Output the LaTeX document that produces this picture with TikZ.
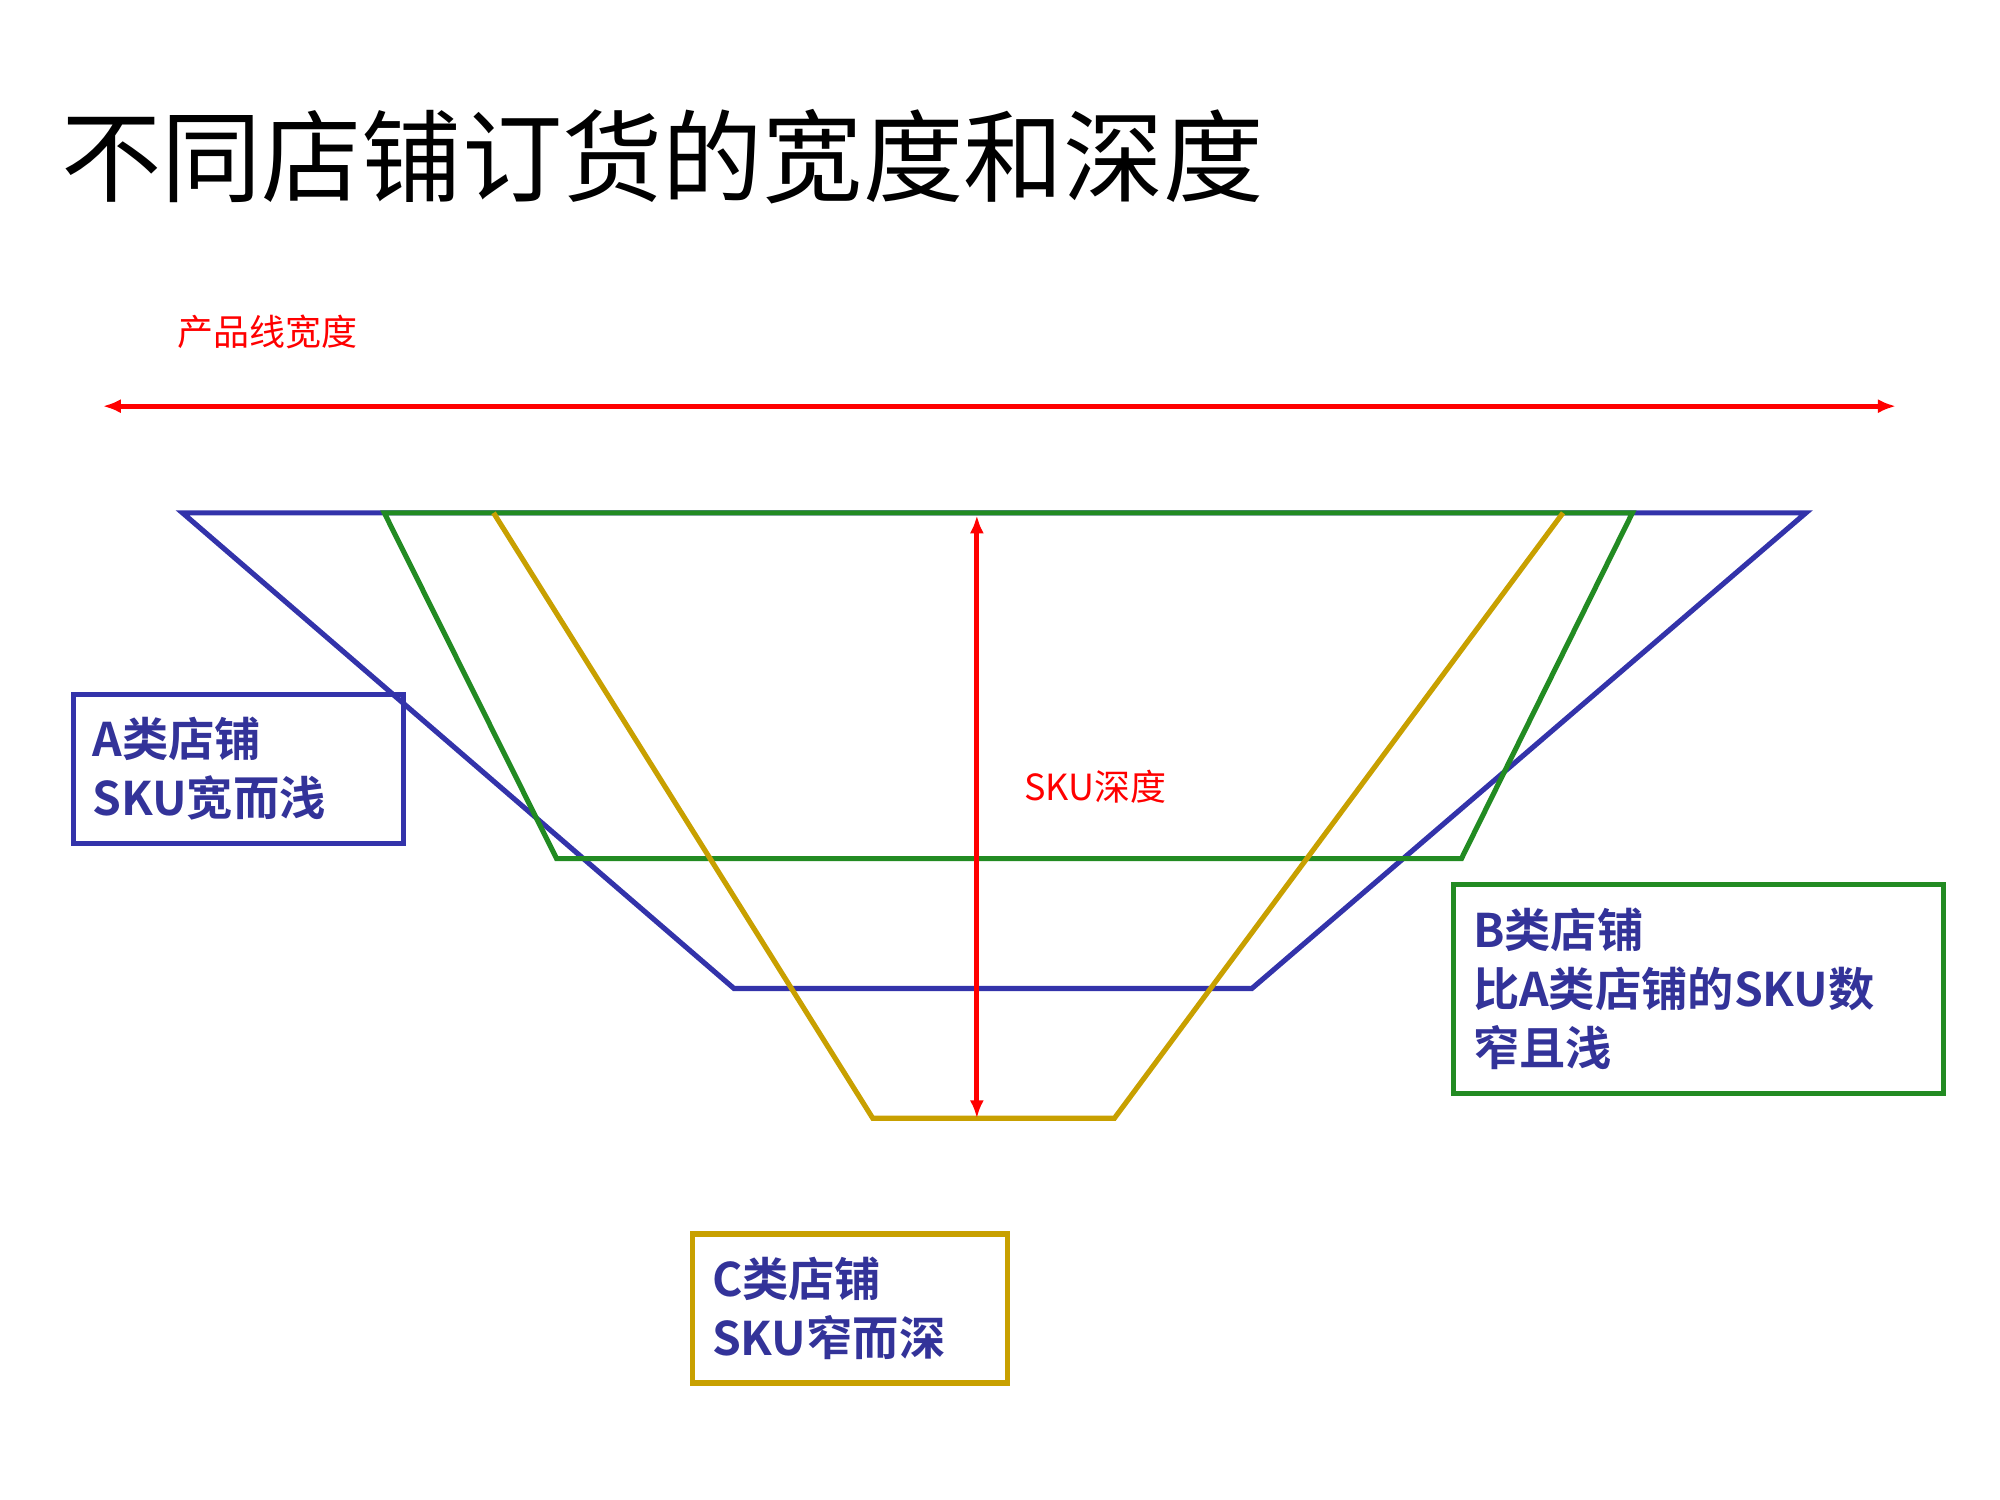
\documentclass[tikz,border=0pt]{standalone}
\usepackage{fontspec}
\newfontfamily\cjk{Noto Sans CJK SC}
\newfontfamily\cjkb{Noto Sans CJK SC Bold}
\usetikzlibrary{arrows.meta}
\definecolor{bl}{RGB}{51,51,170}
\definecolor{gr}{RGB}{34,139,34}
\definecolor{yl}{RGB}{200,160,0}
\definecolor{tx}{RGB}{51,51,153}
\begin{document}
\begin{tikzpicture}[x=1pt,y=-1pt,
  lab/.style={text=tx,font=\cjkb\fontsize{36}{46}\selectfont,align=left,inner xsep=15pt,inner ysep=10pt,line width=4pt,anchor=north west,minimum height=116pt},
  redarr/.style={red,line width=4pt,{Latex[length=14pt,width=11pt]}-{Latex[length=14pt,width=11pt]}}]
\useasboundingbox (0,0) rectangle (1556,1167);
\node[anchor=west,font=\cjk\fontsize{78}{80}\selectfont] (title) at (44,122) {不同店铺订货的宽度和深度};
\node[red,font=\cjk\fontsize{28}{30}\selectfont] (w) at (208,258) {产品线宽度};
\coordinate (wl) at (80,316); \coordinate (wr) at (1475,316);
\draw[redarr] (wl) -- (wr);
\draw[bl,line width=4pt] (142,399) -- (1405,399) -- (974,769) -- (571,769) -- cycle;
\draw[gr,line width=4pt] (299,399) -- (1270,399) -- (1137,668) -- (433,668) -- cycle;
\draw[yl,line width=4pt] (384,399) -- (679,870) -- (867,870) -- (1216,399);
\coordinate (dt) at (760,401); \coordinate (db) at (760,870);
\draw[redarr] (dt) -- (db);
\node[red,font=\cjk\fontsize{28}{30}\selectfont] (d) at (852,612) {SKU深度};
\node[lab,draw=bl,text width=227pt] (a) at (55,538) {A类店铺\\SKU宽而浅};
\node[lab,draw=gr,text width=351pt,minimum height=163pt] (b) at (1129,686) {B类店铺\\比A类店铺的SKU数\\窄且浅};
\node[lab,draw=yl,text width=215pt] (c) at (537,958) {C类店铺\\SKU窄而深};
\end{tikzpicture}
\end{document}
